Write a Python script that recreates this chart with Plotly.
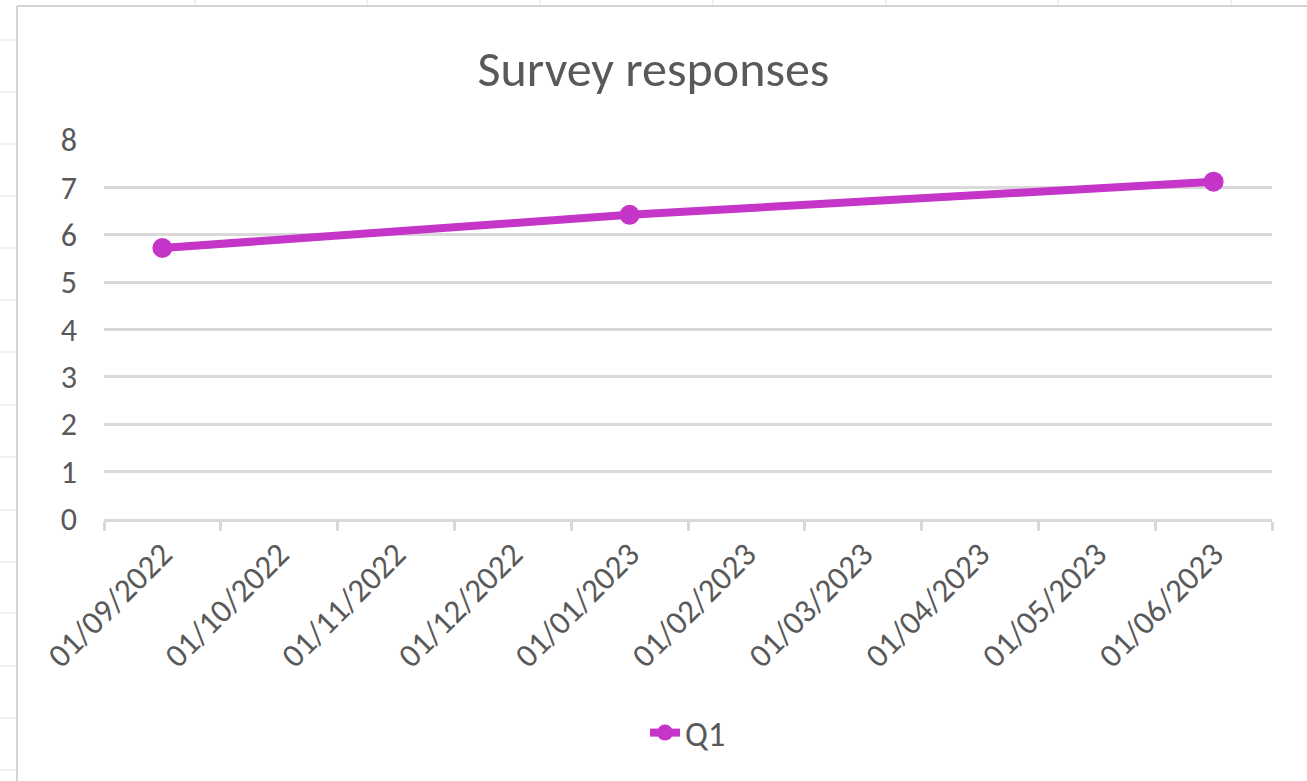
import plotly.graph_objects as go

categories = ["01/09/2022", "01/10/2022", "01/11/2022", "01/12/2022", "01/01/2023",
              "01/02/2023", "01/03/2023", "01/04/2023", "01/05/2023", "01/06/2023"]
q1_values = [5.72, None, None, None, 6.42, None, None, None, None, 7.12]
y_ticks = [0, 1, 2, 3, 4, 5, 6, 7, 8]

W, H = 1307, 781
L, R, T, B = 104, 1272, 140, 519
LINE = "#C535C8"
TXT = "#595959"
FONT = "Carlito, Open Sans, sans-serif"

def px(x):
    return (x - L) / (R - L)

def py(y):
    return (B - y) / (B - T)

fig = go.Figure()
fig.add_trace(go.Scatter(
    x=categories, y=q1_values, name="Q1", mode="lines+markers",
    connectgaps=True,
    line=dict(color=LINE, width=8),
    marker=dict(color=LINE, size=20),
))

shapes = []
sheet = "#E1E1E1"
for yy in [40, 92, 144, 196, 248, 300, 352, 405, 457, 510, 562, 613, 666, 718, 770]:
    shapes.append(dict(type="line", xref="paper", yref="paper", x0=px(0), x1=px(17),
                       y0=py(yy), y1=py(yy), line=dict(color=sheet, width=1), layer="below"))
for xx in [195, 367, 540, 713, 886, 1058, 1231]:
    shapes.append(dict(type="line", xref="paper", yref="paper", x0=px(xx), x1=px(xx),
                       y0=py(0), y1=py(6), line=dict(color=sheet, width=1), layer="below"))
shapes.append(dict(type="line", xref="paper", yref="paper", x0=px(17), x1=px(17),
                   y0=py(6), y1=py(790), line=dict(color="#D4D4D4", width=2), layer="below"))
shapes.append(dict(type="line", xref="paper", yref="paper", x0=px(17), x1=px(1320),
                   y0=py(6), y1=py(6), line=dict(color="#D4D4D4", width=2), layer="below"))

fig.update_layout(
    width=W, height=H,
    margin=dict(l=L, r=W - R, t=T, b=H - B),
    paper_bgcolor="white", plot_bgcolor="white",
    font=dict(family=FONT, color=TXT, size=32),
    title=dict(text="Survey responses", x=0.5, xanchor="center", y=1 - 68 / H,
               yanchor="middle", font=dict(size=50, color=TXT, family=FONT)),
    showlegend=True,
    legend=dict(orientation="h", x=0.5, xanchor="center", y=py(733), yanchor="middle",
                font=dict(size=34, color=TXT)),
    shapes=shapes,
    xaxis=dict(type="category", categoryorder="array", categoryarray=categories,
               range=[-0.5, 9.5], tickson="boundaries", ticks="outside", ticklen=9,
               tickcolor="#D9D9D9", tickwidth=2.5, showline=True, linecolor="#D9D9D9",
               linewidth=2.5, showgrid=False, tickangle=-45, tickfont=dict(size=33, color=TXT),
               zeroline=False, automargin=False),
    yaxis=dict(range=[0, 8], tickvals=y_ticks, showgrid=True, gridcolor="#D9D9D9",
               gridwidth=2.5, zeroline=False, showline=False, ticks="",
               ticklabelstandoff=26, tickfont=dict(size=32, color=TXT), automargin=False),
)

fig.write_html("out.html")
